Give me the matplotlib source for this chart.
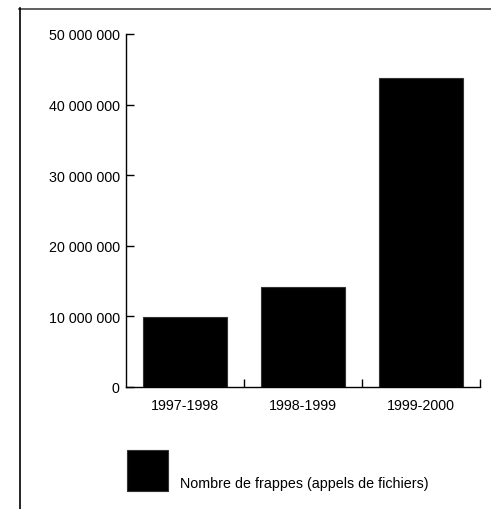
import matplotlib
matplotlib.use("Agg")
import matplotlib.pyplot as plt
from matplotlib.patches import Rectangle
from matplotlib.lines import Line2D

categories = ["1997-1998", "1998-1999", "1999-2000"]
values = [9_900_000, 14_200_000, 43_800_000]
series_name = "Nombre de frappes (appels de fichiers)"
yticks = [0, 10_000_000, 20_000_000, 30_000_000, 40_000_000, 50_000_000]

plt.rcParams['font.family'] = ['Liberation Sans', 'DejaVu Sans']

W, H = 491, 510
fig = plt.figure(figsize=(W / 100, H / 100), dpi=100)
ax = fig.add_axes([126 / W, 1 - 388 / H, (480 - 126) / W, (388 - 35) / H])

x = list(range(len(categories)))
ax.bar(x, values, width=0.72, color="black", edgecolor="#333333", linewidth=0.8)
ax.set_xlim(-0.5, len(categories) - 0.5)
ax.set_ylim(0, 50_000_000)

for s in ["top", "right"]:
    ax.spines[s].set_visible(False)
for s in ["left", "bottom"]:
    ax.spines[s].set_linewidth(1.0)

ax.set_yticks(yticks)
ax.set_yticklabels([f"{v:,}".replace(",", " ") for v in yticks])
ax.tick_params(axis="y", direction="in", length=6, width=1.0, labelsize=10.3, pad=4.5)

ax.set_xticks(x)
ax.set_xticklabels(categories)
ax.tick_params(axis="x", which="major", length=0, labelsize=10.3, pad=8)
ax.set_xticks([i + 0.5 for i in x], minor=True)
ax.tick_params(axis="x", which="minor", direction="in", length=6, width=1.0)

# legend
fig.patches.append(Rectangle((127 / W, 1 - 492 / H), 41 / W, 41 / H,
                             transform=fig.transFigure, facecolor="black",
                             edgecolor="#333333", linewidth=0.8))
fig.text(180 / W, 1 - 488 / H, series_name, fontsize=10.3, va="baseline", ha="left")

# frame lines
fig.lines.append(Line2D([19 / W, 1], [1 - 9.5 / H, 1 - 9.5 / H], transform=fig.transFigure,
                        color="#444444", linewidth=1.2))
fig.lines.append(Line2D([19.5 / W, 19.5 / W], [1 - 9 / H, 0], transform=fig.transFigure,
                        color="black", linewidth=1.2))

fig.savefig("out.png", dpi=100)
